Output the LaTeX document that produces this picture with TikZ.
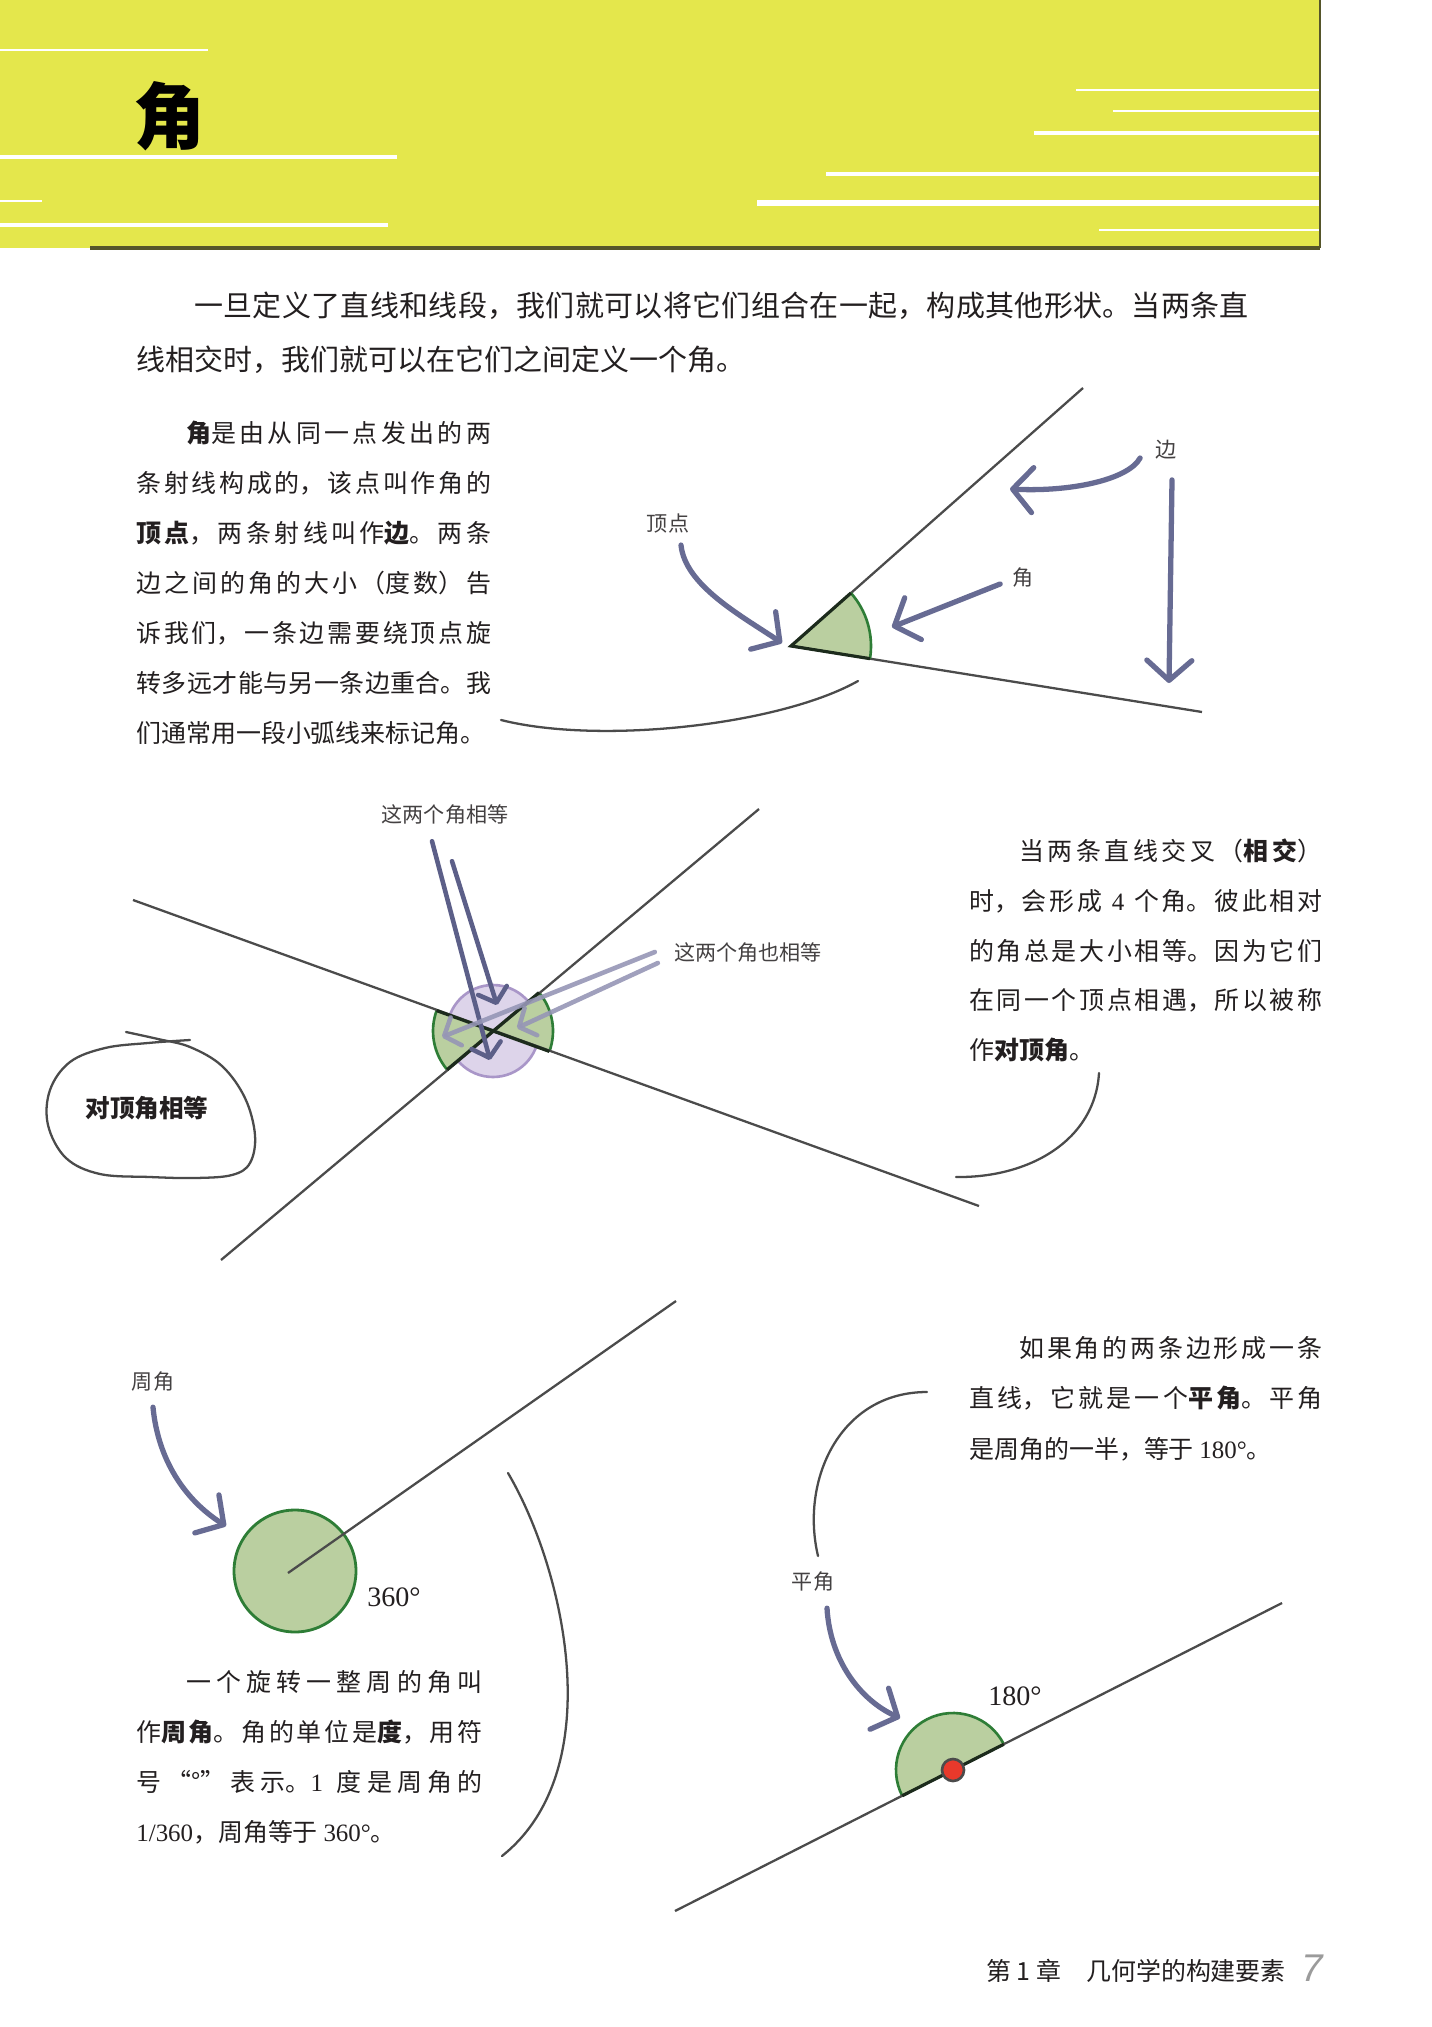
\documentclass[tikz,border=0pt]{standalone}
\usepackage{fontspec}
\setmainfont{Noto Sans CJK SC}
\newfontfamily\serifnum{Liberation Serif}
\newfontfamily\footsans{Liberation Sans}
\usepackage{tikz}
\usetikzlibrary{arrows.meta, calc}
\usepackage{xcolor}
\definecolor{PageYellow}{HTML}{E4E74C}
\definecolor{PageEdge}{HTML}{55552A}
\definecolor{InkBlack}{HTML}{231F20}
\definecolor{LineGray}{HTML}{4B4B4B}
\definecolor{ArrowSlate}{HTML}{676B93}
\definecolor{ArrowDark}{HTML}{5C5F88}
\definecolor{ArrowLight}{HTML}{9696B6}
\definecolor{AngleGreen}{HTML}{BACFA0}
\definecolor{AngleEdge}{HTML}{2E7D36}
\definecolor{AngleDark}{HTML}{1C2B1C}
\definecolor{AnglePurple}{HTML}{DDD4EA}
\definecolor{PurpleEdge}{HTML}{A996C8}
\definecolor{DotRed}{HTML}{E8392B}
\definecolor{PageNumGray}{HTML}{9B9B9B}
\XeTeXlinebreaklocale "zh"
\XeTeXlinebreakskip=0pt plus 1pt
\XeTeXlinebreakpenalty=0
\tolerance=9999
\hbadness=10000
\tikzset{
    % Text styles
    bodytext/.style={
        anchor=north west,
        inner sep=0pt,
        align=justify,
        text=InkBlack,
        font=\fontsize{14.2}{28.45}\selectfont
    },
    tag/.style={
        inner sep=0pt,
        text=InkBlack!85,
        font=\fontsize{12}{14}\selectfont
    },
    degtag/.style={
        inner sep=0pt,
        text=InkBlack,
        font=\fontsize{16}{18}\serifnum
    },
    % Line styles
    ray/.style={
        draw=LineGray,
        line width=1.3pt
    },
    sketch/.style={
        draw=LineGray,
        line width=1.3pt,
        line cap=round
    },
    rim/.style={
        draw=AngleEdge,
        line width=1.5pt
    },
    leg/.style={
        draw=AngleDark,
        line width=1.8pt
    },
    % Arrow styles
    pointer/.style={
        draw=ArrowSlate,
        line width=3pt,
        line cap=round,
        -{Straight Barb[length=4mm, width=9mm, round]}
    },
    pairdark/.style={
        draw=ArrowDark,
        line width=2.6pt,
        line cap=round,
        -{Straight Barb[length=2.6mm, width=6mm, round]}
    },
    pairlight/.style={
        draw=ArrowLight,
        line width=2.6pt,
        line cap=round,
        opacity=0.9,
        -{Straight Barb[length=2.6mm, width=6mm, round]}
    }
}

\begin{document}
\begin{tikzpicture}[x=0.02cm, y=0.02cm]
    \useasboundingbox (0,0) rectangle (1431,-2027);
    \fill[white] (0,0) rectangle (1431,-2027);

    % header band
    \fill[PageYellow] (0,0) rectangle (1320,-248);
    \foreach \xa/\xb/\yy/\lw in {0/208/50/1.5, 1076/1320/90/1.5, 1113/1320/111/1.5, 1034/1320/133/2, 0/397/157/2.5, 826/1320/174/2.5, 0/42/201/1.5, 757/1320/203/3, 0/388/225/2.5, 1099/1320/230/1.5}
        \draw[white, line width=\lw pt] (\xa,-\yy) -- (\xb,-\yy);
    \draw[PageEdge, line width=1.2pt] (1320,0) -- (1320,-248);
    \draw[PageEdge, line width=2pt] (90,-248) -- (1320,-248);
    \node[inner sep=0pt, font=\fontsize{41}{41}\selectfont\bfseries] (title) at (170,-116) {角};

    \node[bodytext, text width=22.25cm, font=\fontsize{16.5}{30.7}\selectfont] (intro) at (136,-292) {\hspace*{2em}一旦定义了直线和线段，我们就可以将它们组合在一起，构成其他形状。当两条直\linebreak 线相交时，我们就可以在它们之间定义一个角。};

    % angle with vertex and sides
    \node[bodytext, text width=7.1cm] (angletext) at (136,-421) {\hspace*{2em}\textbf{角}是由从同一点发出的两\linebreak 条射线构成的，该点叫作角的\linebreak \textbf{顶点}，两条射线叫作\textbf{边}。两条\linebreak 边之间的角的大小（度数）告\linebreak 诉我们，一条边需要绕顶点旋\linebreak 转多远才能与另一条边重合。我\linebreak 们通常用一段小弧线来标记角。};

    \coordinate (v1) at (791,-646);
    \coordinate (side1) at (1083,-388);
    \coordinate (side2) at (1202,-712);
    \fill[AngleGreen] (v1) -- ++(-9.1:1.6cm) arc[start angle=-9.1, end angle=41.5, radius=1.6cm] -- cycle;
    \draw[ray] (v1) -- (side1);
    \draw[ray] (v1) -- (side2);
    \draw[rim] ($(v1)+(-9.1:1.6cm)$) arc[start angle=-9.1, end angle=41.5, radius=1.6cm];
    \draw[leg] ($(v1)+(41.5:1.6cm)$) -- (v1) -- ($(v1)+(-9.1:1.6cm)$);

    \node[tag] (vertexlbl) at (668,-524) {顶点};
    \node[tag] (anglelbl) at (1023,-578) {角};
    \node[tag] (sidelbl) at (1166,-450) {边};
    \coordinate (vertextip) at (782,-643);
    \coordinate (angletip) at (892,-627);
    \coordinate (sidetip1) at (1010,-489);
    \coordinate (sidetip2) at (1169,-683);
    \draw[pointer] ([xshift=0.26cm, yshift=-0.22cm]vertexlbl.south) .. controls (685,-585) and (740,-615) .. (vertextip);
    \draw[pointer] ([xshift=-0.24cm, yshift=-0.12cm]anglelbl.west) -- (angletip);
    \draw[pointer] ([xshift=-0.3cm, yshift=-0.16cm]sidelbl.west) .. controls (1128,-480) and (1070,-492) .. (sidetip1);
    \draw[pointer] ([xshift=0.12cm, yshift=-0.4cm]sidelbl.south) -- (sidetip2);
    \draw[sketch] (501,-720) .. controls (600,-745) and (780,-725) .. (858,-681);

    % vertical angles
    \coordinate (cross) at (493,-1031);
    \coordinate (lineAa) at (133,-900);
    \coordinate (lineAb) at (979,-1206);
    \coordinate (lineBa) at (221,-1260);
    \coordinate (lineBb) at (759,-809);
    \fill[AnglePurple] (cross) circle[radius=0.92cm];
    \draw[PurpleEdge, line width=1.5pt] (cross) circle[radius=0.92cm];
    \foreach \a/\b in {-19.9/39.85, 160.1/220.1}{
        \fill[AngleGreen] (cross) -- ++(\a:1.2cm) arc[start angle=\a, end angle=\b, radius=1.2cm] -- cycle;
        \draw[rim] ($(cross)+(\a:1.2cm)$) arc[start angle=\a, end angle=\b, radius=1.2cm];
    }
    \draw[ray] (lineAa) -- (lineAb);
    \draw[ray] (lineBa) -- (lineBb);
    \draw[leg] ($(cross)+(160.1:1.2cm)$) -- ($(cross)+(-19.9:1.2cm)$);
    \draw[leg] ($(cross)+(220.1:1.2cm)$) -- ($(cross)+(39.85:1.2cm)$);

    \node[tag] (eqlbl) at (445,-815) {这两个角相等};
    \node[tag] (alsolbl) at (748,-952) {这两个角也相等};
    \coordinate (bottomtip) at (490,-1060);
    \coordinate (toptip) at (497,-1005);
    \coordinate (lefttip) at (442,-1037);
    \coordinate (righttip) at (517,-1028);
    \draw[pairdark] ([xshift=-0.26cm, yshift=-0.32cm]eqlbl.south) -- (bottomtip);
    \draw[pairdark] ([xshift=0.14cm, yshift=-0.72cm]eqlbl.south) -- (toptip);
    \draw[pairlight] ([xshift=-0.38cm]alsolbl.west) -- (lefttip);
    \draw[pairlight] ([xshift=-0.32cm, yshift=-0.22cm]alsolbl.west) -- (righttip);

    \node[bodytext, text width=7.06cm] (crosstext) at (969,-838) {\hspace*{2em}当两条直线交叉（\textbf{相交}）\linebreak 时，会形成 {\serifnum 4} 个角。彼此相对\linebreak 的角总是大小相等。因为它们\linebreak 在同一个顶点相遇，所以被称\linebreak 作\textbf{对顶角}。};
    \draw[sketch] (1099,-1073) .. controls (1095,-1140) and (1030,-1178) .. (956,-1177);

    \draw[sketch] plot[smooth, tension=0.6] coordinates {(126,-1032) (158,-1039) (190,-1047) (222,-1066) (245,-1098) (255,-1135) (250,-1163) (232,-1175) (195,-1178) (150,-1177) (100,-1174) (66,-1158) (48,-1125) (50,-1090) (70,-1062) (105,-1048) (148,-1043) (190,-1040)};
    \node[inner sep=0pt, text=InkBlack, font=\fontsize{14}{16}\selectfont\bfseries] (bloblbl) at (147,-1108) {对顶角相等};

    % full turn
    \coordinate (c360) at (295,-1571);
    \coordinate (turnray) at (676,-1301);
    \filldraw[fill=AngleGreen, draw=AngleEdge, line width=1.6pt] (c360) circle[radius=1.22cm];
    \draw[ray] ([xshift=-0.14cm, yshift=-0.04cm]c360) -- (turnray);
    \node[degtag] (deg360) at (394,-1597) {360°};
    \node[tag] (turnlbl) at (153,-1382) {周角};
    \coordinate (turntip) at (226,-1526);
    \draw[pointer] ([yshift=-0.3cm]turnlbl.south) .. controls (158,-1460) and (185,-1500) .. (turntip);
    \draw[sketch] (508,-1473) .. controls (565,-1570) and (610,-1770) .. (502,-1856);

    \node[bodytext, text width=6.92cm] (turntext) at (136,-1670) {\hspace*{2em}一个旋转一整周的角叫\linebreak 作\textbf{周角}。角的单位是\textbf{度}，用符\linebreak 号“°”表示。{\serifnum 1} 度是周角的\linebreak {\serifnum 1/360}，周角等于 {\serifnum 360°}。};

    % straight angle
    \node[bodytext, text width=7.06cm, font=\fontsize{14.2}{28.7}\selectfont] (flattext) at (969,-1336) {\hspace*{2em}如果角的两条边形成一条\linebreak 直线，它就是一个\textbf{平角}。平角\linebreak 是周角的一半，等于 {\serifnum 180°}。};
    \draw[sketch] (927,-1392) .. controls (840,-1392) and (800,-1480) .. (818,-1556);

    \coordinate (flat) at (953,-1770);
    \coordinate (flatA) at (675,-1911);
    \coordinate (flatB) at (1282,-1603);
    \fill[AngleGreen] ($(flat)+(26.9:1.14cm)$) arc[start angle=26.9, end angle=206.9, radius=1.14cm] -- cycle;
    \draw[rim] ($(flat)+(26.9:1.14cm)$) arc[start angle=26.9, end angle=206.9, radius=1.14cm];
    \draw[ray] (flatA) -- (flatB);
    \draw[leg] ($(flat)+(206.9:1.14cm)$) -- ($(flat)+(26.9:1.14cm)$);
    \filldraw[fill=DotRed, draw=LineGray, line width=1.5pt] (flat) circle[radius=0.22cm];
    \node[degtag] (deg180) at (1015,-1696) {180°};
    \node[tag] (flatlbl) at (813,-1582) {平角};
    \coordinate (flattip) at (900,-1718);
    \draw[pointer] ([xshift=0.28cm, yshift=-0.32cm]flatlbl.south) .. controls (830,-1660) and (860,-1700) .. (flattip);

    % footer
    \node[anchor=west, inner sep=0pt, text=InkBlack, font=\fontsize{14.2}{16}\selectfont] (chapter) at (986,-1971) {第 1 章\quad 几何学的构建要素};
    \node[inner sep=0pt, text=PageNumGray, font=\fontsize{22}{22}\footsans\itshape] (pagenum) at (1312,-1968) {7};
\end{tikzpicture}
\end{document}
